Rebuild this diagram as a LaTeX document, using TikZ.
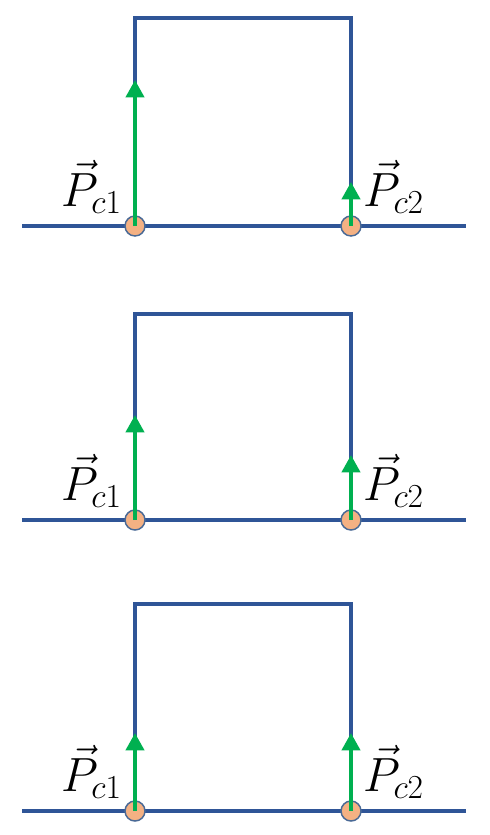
\RequirePackage{fix-cm}
\documentclass[tikz,border=0pt]{standalone}
\usetikzlibrary{arrows.meta}
\definecolor{railblue}{HTML}{2F5597}
\definecolor{forcegreen}{HTML}{00B050}
\definecolor{padfill}{HTML}{F4B183}
\definecolor{padedge}{HTML}{4A6A96}
\tikzset{
  rail/.style={draw=railblue, line width=3pt},
  frame/.style={draw=railblue, line width=3pt, line join=miter},
  contact/.style={circle, minimum size=15pt, inner sep=0pt, fill=padfill, draw=padedge, line width=1.1pt},
  force/.style={draw=forcegreen, line width=3pt, -{Triangle[width=13.5pt,length=13pt]}},
  lbl/.style={inner sep=0pt, font=\fontsize{36}{40}\selectfont}
}
\begin{document}
\begin{tikzpicture}[x=0.75pt,y=-0.75pt]
    \useasboundingbox (0,0) rectangle (489,835);

    \foreach \ybase/\ytop/\yl/\yr [count=\n] in {226/18/80/182, 520/314/415/455, 811/604/733/733}{
    \draw[rail] (22,\ybase) -- (466,\ybase);
    \draw[frame] (135,\ybase) -- (135,\ytop) -- (351,\ytop) -- (351,\ybase);
    \node[contact] (cl\n) at (135,\ybase) {};
    \node[contact] (cr\n) at (351,\ybase) {};
    \coordinate (tl\n) at (135,\yl);
    \coordinate (tr\n) at (351,\yr);
    \draw[force] (cl\n.center) -- (tl\n);    %% contact force, left
    \draw[force] (cr\n.center) -- (tr\n);    %% contact force, right
    \node[lbl, anchor=south east] (pl\n) at (122,\ybase-12) {$\vec{P}_{c1}$};
    \node[lbl, anchor=south west] (pr\n) at (363,\ybase-12) {$\vec{P}_{c2}$};
    }
\end{tikzpicture}
\end{document}
